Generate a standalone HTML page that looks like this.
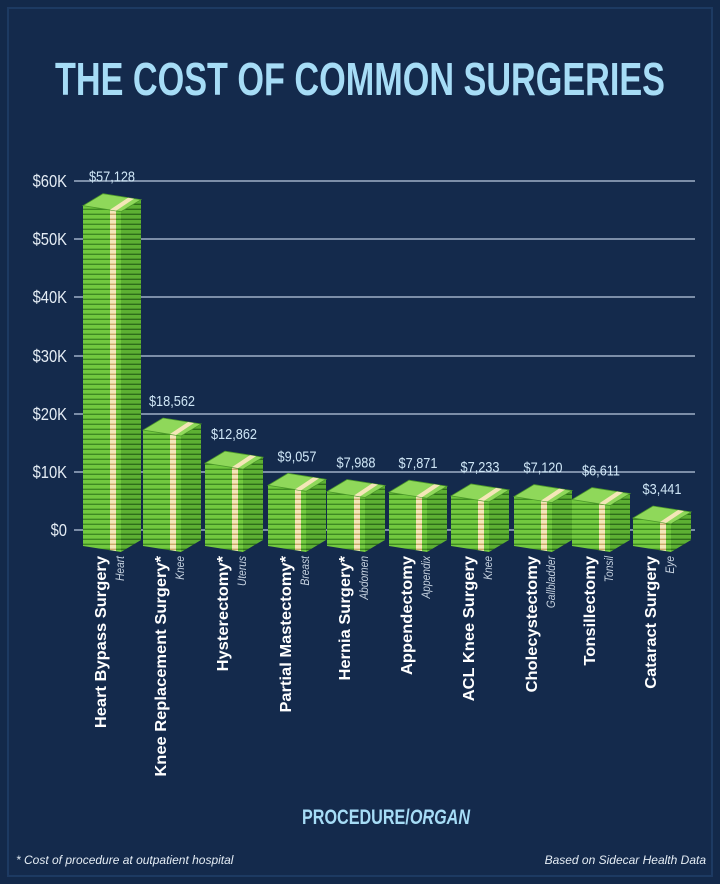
<!DOCTYPE html>
<html><head><meta charset="utf-8"><style>
html,body{margin:0;padding:0;background:#13294a;}
body{width:720px;height:884px;overflow:hidden;position:relative;font-family:"Liberation Sans",sans-serif;}
</style></head><body>
<svg width="720" height="884" xmlns="http://www.w3.org/2000/svg" style="position:absolute;left:0;top:0">
<defs>
<pattern id="st" width="6" height="5" patternUnits="userSpaceOnUse">
<rect width="6" height="5" fill="#72c93f"/><rect y="3.6" width="6" height="1.4" fill="#3f8a22"/>
</pattern>
<pattern id="st2" width="6" height="5" patternUnits="userSpaceOnUse">
<rect width="6" height="5" fill="#5db033"/><rect y="3.6" width="6" height="1.4" fill="#2f6e1a"/>
</pattern>
<pattern id="cb" width="6" height="5" patternUnits="userSpaceOnUse">
<rect width="6" height="5" fill="#f4e6b8"/><rect y="3.6" width="6" height="1.4" fill="#c8a86a"/>
</pattern>
</defs>
<rect x="0" y="0" width="720" height="884" fill="#13294a"/>
<rect x="8" y="8" width="704" height="868" fill="#142a4c" stroke="#1d3a62" stroke-width="2"/>
<text x="55" y="95" textLength="610" lengthAdjust="spacingAndGlyphs" font-weight="bold" font-size="46" fill="#a6dcf6">THE COST OF COMMON SURGERIES</text>
<g stroke="#9eb0c6" stroke-width="1.5">
<line x1="74" y1="181" x2="695" y2="181"/><line x1="74" y1="239" x2="695" y2="239"/>
<line x1="74" y1="297" x2="695" y2="297"/><line x1="74" y1="356" x2="695" y2="356"/>
<line x1="74" y1="414" x2="695" y2="414"/><line x1="74" y1="472" x2="695" y2="472"/>
<line x1="74" y1="530" x2="695" y2="530"/>
</g>
<g font-size="18" fill="#e4ecf4" text-anchor="end" transform="translate(67,0) scale(0.82,1) translate(-67,0)">
<text x="67" y="187">$60K</text><text x="67" y="245">$50K</text><text x="67" y="303">$40K</text>
<text x="67" y="362">$30K</text><text x="67" y="420">$20K</text><text x="67" y="478">$10K</text><text x="67" y="536">$0</text>
</g>
<g id="bars"></g>
<g id="lbl"></g>
<text x="302" y="824" textLength="168" lengthAdjust="spacingAndGlyphs" font-size="21" font-weight="bold" fill="#a6dcf6">PROCEDURE/<tspan font-style="italic">ORGAN</tspan></text>
<text x="16" y="864" font-size="12" font-style="italic" fill="#e4ecf4">* Cost of procedure at outpatient hospital</text>
<text x="706" y="864" text-anchor="end" font-size="12" font-style="italic" fill="#e4ecf4">Based on Sidecar Health Data</text>
</svg>
<script>
var d=[[112,57128,"$57,128","Heart Bypass Surgery","Heart"],[172,18562,"$18,562","Knee Replacement Surgery*","Knee"],[234,12862,"$12,862","Hysterectomy*","Uterus"],[297,9057,"$9,057","Partial Mastectomy*","Breast"],[356,7988,"$7,988","Hernia Surgery*","Abdomen"],[418,7871,"$7,871","Appendectomy","Appendix"],[480,7233,"$7,233","ACL Knee Surgery","Knee"],[543,7120,"$7,120","Cholecystectomy","Gallbladder"],[601,6611,"$6,611","Tonsillectomy","Tonsil"],[662,3441,"$3,441","Cataract Surgery","Eye"]];
var s="",l="";
d.forEach(function(b){
var c=b[0],h=b[1]/60000*349,x0=c-29,top=530-h+8,bot=546;
var mx=x0+38;
s+='<polygon points="'+x0+','+top+' '+mx+','+(top+6)+' '+mx+','+(bot+6)+' '+x0+','+bot+'" fill="url(#st)"/>';
s+='<polygon points="'+mx+','+(top+6)+' '+(x0+58)+','+(top-6)+' '+(x0+58)+','+(bot-6)+' '+mx+','+(bot+6)+'" fill="url(#st2)"/>';
s+='<polygon points="'+(x0+27)+','+(top+4)+' '+(x0+33)+','+(top+5)+' '+(x0+33)+','+(bot+5)+' '+(x0+27)+','+(bot+4)+'" fill="url(#cb)"/>';
s+='<polygon points="'+x0+','+top+' '+(x0+20)+','+(top-12)+' '+(x0+58)+','+(top-6)+' '+mx+','+(top+6)+'" fill="#8fd85a" stroke="#4c9a2a" stroke-width="0.8"/>';
s+='<polygon points="'+(x0+27)+','+(top+4)+' '+(x0+45)+','+(top-8)+' '+(x0+51)+','+(top-7)+' '+(x0+33)+','+(top+5)+'" fill="#f4e6b8"/>';
l+='<text transform="translate('+c+','+(top-24)+') scale(0.85,1)" text-anchor="middle" font-size="15" fill="#cfe6f6">'+b[2]+'</text>';
l+='<text transform="translate('+(c-6)+',556) rotate(-90) scale(1.03,1)" text-anchor="end" font-size="16" font-weight="bold" fill="#ffffff">'+b[3]+'</text>';
l+='<text transform="translate('+(c+12)+',556) rotate(-90) scale(0.85,1)" text-anchor="end" font-size="12" font-style="italic" fill="#c6d2e0">'+b[4]+'</text>';
});
document.getElementById("bars").innerHTML=s;
document.getElementById("lbl").innerHTML=l;
</script>
</body></html>
